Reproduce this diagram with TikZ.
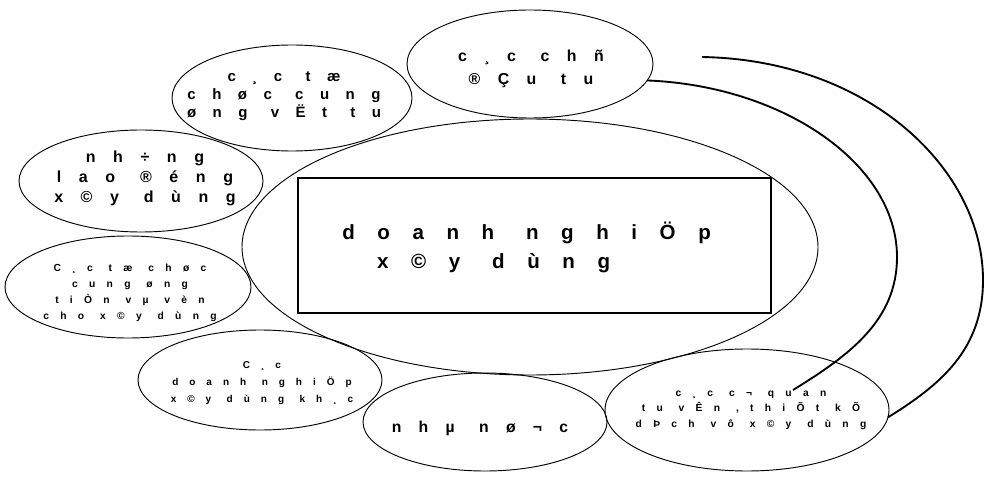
\documentclass[tikz,border=0pt]{standalone}
\usepackage{fontspec}
\setmainfont{Liberation Sans}
\newfontfamily\spcfont[LetterSpace=110]{Liberation Sans}
\newcommand\wsp{\hspace{1.55em}}
\usetikzlibrary{shapes.geometric}
\tikzset{
  oval/.style n args={2}{draw, ellipse, line width=0.7pt, inner sep=0pt, outer sep=0pt,
     minimum width=#1*1.5pt, minimum height=#2*1.5pt},
  txt/.style n args={2}{font={\spcfont\bfseries\fontsize{#1}{#2}\selectfont}, align=center, inner sep=0pt},
  link/.style={line width=1.4pt},
}
\begin{document}
\begin{tikzpicture}[x=0.75pt,y=-0.75pt]
\useasboundingbox (0,0) rectangle (985,477);
% ellipses
\node[oval={120}{53}] (e1) at (292,98) {};
\node[oval={122}{51}] (e2) at (141,181) {};
\node[oval={123}{51}] (e3) at (128,287) {};
\node[oval={123}{54}] (e4) at (530,64) {};
\node[oval={288}{128}] (e5) at (530,247) {};
\node[oval={122}{50}] (e6) at (260,380) {};
\node[oval={122}{49}] (e7) at (485,422) {};
\node[oval={142}{61}] (e8) at (747,410) {};
\node[draw, line width=0.8pt, minimum width=473*0.75pt, minimum height=135*0.75pt, inner sep=0pt, outer sep=0pt] (r) at (534.5,245.5) {};
% texts
\node[txt={11.25}{13.5}] (t1) at (284,96) {c¸c\wsp tæ\\chøc\wsp cung\\øng\wsp vËt\wsp tu};
\node[txt={12}{15}] (t2) at (145,178) {nh÷ng\\lao\wsp ®éng\\x©y\wsp dùng};
\node[txt={7.7}{12}] (t3) at (130,293) {C¸c\wsp tæ\wsp chøc\\cung\wsp øng\\tiÒn\wsp vµ\wsp vèn\\cho\wsp x©y\wsp dùng};
\node[txt={11.9}{17.25}] (t4) at (531,68.5) {c¸c\wsp chñ\\®Çu\wsp tu};
\node[txt={15.4}{21.75}, align=left, anchor=west] (t5) at (342,247.5) {doanh\wsp nghiÖp\\\hspace*{1.7em}x©y\wsp dùng};
\node[txt={7.5}{12.75}] (t6) at (262,383) {C¸c\\doanh\wsp nghiÖp\\x©y\wsp dùng\wsp kh¸c};
\node[txt={11.8}{14}] (t7) at (480,428) {nhµ\wsp nø¬c};
\node[txt={7.7}{11.6}] (t8) at (751,410) {c¸c\wsp c¬\wsp quan\\tu\wsp vÊn\wsp ,thiÕt\wsp kÕ\\dÞch\wsp vô\wsp x©y\wsp dùng};
% connectors
\coordinate (a2) at (793,390);
\coordinate (b1) at (702,57);
\draw[link] (e4.-8) .. controls (785,86) and (897,165) .. (897,257)
   .. controls (897,320) and (850,355) .. (a2);
\draw[link] (b1) .. controls (870,60) and (983,170) .. (983,280)
   .. controls (983,350) and (940,385) .. (e8.-3);
\end{tikzpicture}
\end{document}
